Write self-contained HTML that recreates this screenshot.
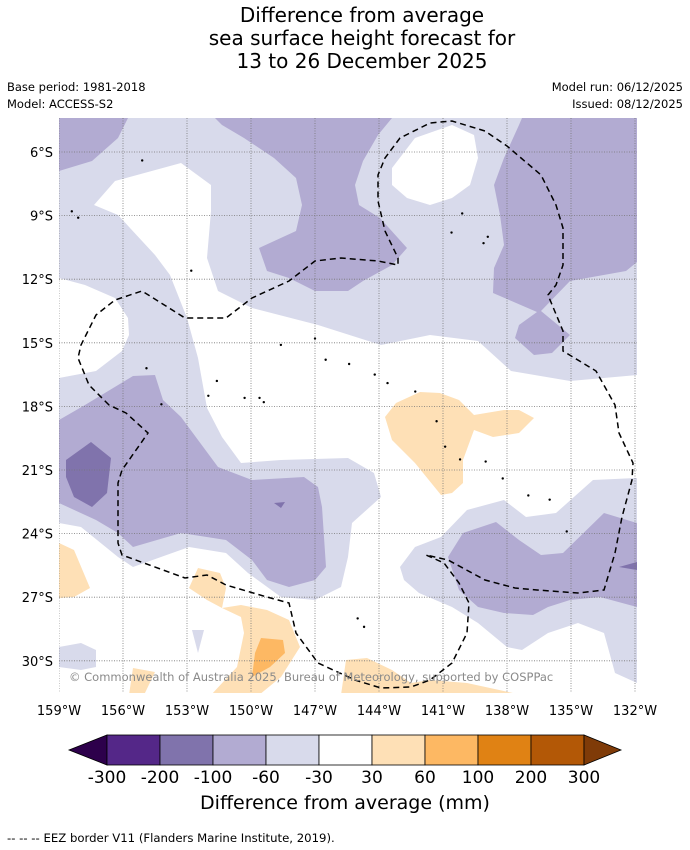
<!DOCTYPE html>
<html><head><meta charset="utf-8"><style>
body{margin:0;background:#fff;width:690px;height:850px;overflow:hidden;font-family:"DejaVu Sans","Liberation Sans",sans-serif}
svg{position:absolute;left:0;top:0;font-family:"DejaVu Sans","Liberation Sans",sans-serif}
</style></head><body>
<svg id="chart" width="690" height="850" viewBox="0 0 690 850">
<g font-size="20" text-anchor="middle" fill="#000">
<text x="362" y="22">Difference from average</text>
<text x="362" y="45">sea surface height forecast for</text>
<text x="362" y="68">13 to 26 December 2025</text>
</g>
<g font-size="11.5" fill="#000">
<text x="7" y="91">Base period: 1981-2018</text>
<text x="7" y="108">Model: ACCESS-S2</text>
<text x="683" y="91" text-anchor="end">Model run: 06/12/2025</text>
<text x="683" y="108" text-anchor="end">Issued: 08/12/2025</text>
</g>
<defs><clipPath id="mapclip"><rect x="59" y="118" width="578" height="575"/></clipPath></defs>
<g id="map" clip-path="url(#mapclip)">
<rect x="59" y="118" width="578" height="575" fill="#fff"/>
<g id="contours"></g>
<g id="grid"></g>
<g id="islands"></g>
<g id="eez"></g>
</g>
<text x="69" y="681" font-size="11.5" fill="#8a8a8a">© Commonwealth of Australia 2025, Bureau of Meteorology, supported by COSPPac</text>
<g id="axes" font-size="13" fill="#000"></g>
<g id="colorbar"></g>
<text x="345" y="809" font-size="19" text-anchor="middle">Difference from average (mm)</text>
<text x="7" y="842" font-size="11.7">--  --  -- EEZ border V11 (Flanders Marine Institute, 2019).</text>
</svg>
<script>
const NS='http://www.w3.org/2000/svg';
const lonTicks=[-159,-156,-153,-150,-147,-144,-141,-138,-135,-132];
const lonLabels=['159°W','156°W','153°W','150°W','147°W','144°W','141°W','138°W','135°W','132°W'];
const latTicks=[-6,-9,-12,-15,-18,-21,-24,-27,-30];
const latLabels=['6°S','9°S','12°S','15°S','18°S','21°S','24°S','27°S','30°S'];
const levels=[-300,-200,-100,-60,-30,30,60,100,200,300];
const levelColors=['#2d004b','#542788','#8073ac','#b2abd2','#d8daeb','#ffffff','#fee0b6','#fdb863','#e08214','#b35806','#7f3b08'];
function xLon(lon){return 59+(lon+159)*64/3;}
function yLat(lat){return 152+(-6-lat)*63.6/3;}
function el(tag,attrs,parent){const e=document.createElementNS(NS,tag);for(const k in attrs)e.setAttribute(k,attrs[k]);parent.appendChild(e);return e;}
const shapeL1main=[[59,118],[637,118],[637,375],[570,381],[511,371],[478,341],[430,335],[381,345],[318,325],[252,308],[218,291],[207,258],[211,211],[211,185],[181,163],[115,181],[94,205],[118,215],[155,255],[170,275],[187,318],[198,358],[207,408],[222,437],[241,463],[281,460],[348,458],[374,473],[381,497],[352,523],[348,557],[341,587],[315,600],[281,597],[248,573],[226,553],[189,547],[133,567],[118,557],[81,527],[59,523],[59,378],[96,371],[122,351],[129,335],[128,318],[115,298],[85,285],[59,278]];
const shapeWhiteHole=[[392,168],[415,138],[452,125],[474,135],[478,158],[470,185],[452,198],[430,205],[407,198],[392,185]];
const shapeWhiteTri=[[144,482],[155,473],[157,490]];
const shapeL1right=[[400,567],[415,547],[441,537],[467,510],[504,500],[526,517],[556,513],[593,480],[637,478],[637,683],[615,673],[604,633],[578,623],[548,633],[522,650],[507,647],[478,623],[452,607],[419,593],[404,580]];
const shapeL1sw=[[59,647],[81,643],[96,650],[96,667],[81,670],[59,667]];
const shapeL1tri=[[192,630],[204,630],[198,653]];
const shapeL2a=[[59,118],[128,118],[118,138],[92,161],[59,171]];
const shapeL2b=[[215,118],[392,118],[378,135],[363,161],[355,185],[359,205],[380,218],[407,248],[392,265],[363,281],[348,291],[315,291],[289,278],[267,271],[259,248],[296,231],[302,205],[296,178],[274,158],[244,138],[222,125]];
const shapeL2c=[[522,118],[637,118],[637,262],[626,271],[570,281],[541,311],[570,335],[552,353],[534,355],[515,338],[519,325],[537,312],[493,293],[494,268],[504,245],[500,215],[494,185],[504,158],[519,125]];
const shapeL2d=[[59,420],[85,405],[133,376],[155,375],[163,400],[181,417],[218,467],[252,480],[304,477],[318,487],[322,507],[326,567],[315,580],[289,587],[267,580],[252,560],[226,540],[181,533],[133,547],[118,533],[96,520],[59,503]];
const shapeL2f=[[448,557],[463,533],[496,522],[519,540],[541,555],[563,553],[604,513],[637,523],[637,607],[600,597],[570,600],[548,607],[533,615],[504,613],[478,607],[459,590]];
const shapeL3a=[[66,460],[91,442],[111,458],[107,493],[92,507],[74,497],[66,477]];
const shapeL3b=[[274,503],[285,502],[281,508]];
const shapeL3c=[[619,567],[637,562],[637,570]];
const shapeO1a=[[385,417],[396,403],[420,392],[440,393],[459,400],[474,415],[504,410],[519,410],[534,418],[519,433],[493,437],[474,430],[463,460],[463,483],[452,493],[441,495],[415,463],[392,440]];
const shapeO1b=[[59,543],[74,550],[90,588],[74,597],[59,598]];
const shapeO1c=[[189,588],[198,568],[220,573],[226,588],[222,608],[207,600]];
const shapeO1d=[[222,608],[241,605],[267,610],[289,620],[300,647],[281,677],[259,695],[211,695],[237,667],[244,633],[241,617]];
const shapeO2e=[[261,638],[283,640],[285,653],[270,667],[252,677],[255,653]];
const shapeO1f=[[341,695],[346,660],[367,658],[392,670],[411,683],[430,680],[467,683],[522,695]];
const shapeO1g=[[129,695],[133,668],[155,672],[144,695]];
const eezLine=[[109,405],[89,385],[78,358],[81,345],[96,315],[115,300],[142,291],[185,318],[226,318],[252,298],[289,281],[315,261],[341,258],[378,261],[398,265],[398,258],[385,231],[378,201],[378,175],[385,158],[400,138],[430,123],[452,121],[485,131],[507,146],[541,175],[556,205],[563,228],[563,265],[556,285],[548,295],[563,331],[563,351],[596,371],[615,405],[619,433],[633,463],[632,480],[622,517],[615,553],[604,590],[578,593],[537,590],[515,588],[485,580],[448,560],[426,555],[444,563],[459,583],[469,603],[467,633],[452,663],[430,680],[411,687],[381,688],[355,680],[318,663],[296,633],[289,603],[267,597],[226,585],[207,575],[185,578],[122,555],[118,543],[118,483],[122,470],[148,433],[126,413],[109,405]];
const islandLon=[-154.9,-154.2,-152.0,-151.6,-150.3,-149.6,-149.4,-148.6,-147.0,-146.5,-145.4,-144.2,-143.6,-142.3,-141.3,-140.9,-140.2,-139.0,-138.2,-137.0,-136.0,-135.2,-140.1,-140.6,-139.1,-138.9,-158.4,-158.1,-152.8,-155.1,-145.0,-144.7];
const islandLat=[-16.2,-17.9,-17.5,-16.8,-17.6,-17.6,-17.8,-15.1,-14.8,-15.8,-16.0,-16.5,-16.9,-17.3,-18.7,-19.9,-20.5,-20.6,-21.4,-22.2,-22.4,-23.9,-8.9,-9.8,-10.3,-10.0,-8.8,-9.1,-11.6,-6.4,-28.0,-28.4];
const contourG=document.getElementById('contours');
function poly(pts,fill,name){const p=el('polygon',{points:pts.map(q=>q.join(',')).join(' '),fill:fill},contourG);

}
poly(shapeL1main,levelColors[4],'contour-minus30-main');
poly(shapeWhiteHole,'#fff','contour-neutral-hole');
poly(shapeWhiteTri,'#fff','contour-neutral-small');
poly(shapeL1right,levelColors[4],'contour-minus30-southeast');
poly(shapeL1sw,levelColors[4],'contour-minus30-southwest');
poly(shapeL1tri,levelColors[4],'contour-minus30-small');
poly(shapeL2a,levelColors[3],'contour-minus60-northwest');
poly(shapeL2b,levelColors[3],'contour-minus60-north');
poly(shapeL2c,levelColors[3],'contour-minus60-northeast');
poly(shapeL2d,levelColors[3],'contour-minus60-west');
poly(shapeL2f,levelColors[3],'contour-minus60-southeast');
poly(shapeL3a,levelColors[2],'contour-minus100-west');
poly(shapeL3b,levelColors[2],'contour-minus100-small');
poly(shapeL3c,levelColors[2],'contour-minus100-east');
poly(shapeO1a,levelColors[6],'contour-plus30-central');
poly(shapeO1b,levelColors[6],'contour-plus30-west');
poly(shapeO1c,levelColors[6],'contour-plus30-small');
poly(shapeO1d,levelColors[6],'contour-plus30-south');
poly(shapeO2e,levelColors[7],'contour-plus60-south');
poly(shapeO1f,levelColors[6],'contour-plus30-bottom');
poly(shapeO1g,levelColors[6],'contour-plus30-bottomleft');
const gridG=document.getElementById('grid');
lonTicks.forEach((lon,i)=>{const l=el('line',{x1:xLon(lon),x2:xLon(lon),y1:118,y2:693,stroke:'#777','stroke-width':0.8,'stroke-dasharray':'1,1.5'},gridG);

});
latTicks.forEach((lat,i)=>{const l=el('line',{x1:59,x2:637,y1:yLat(lat),y2:yLat(lat),stroke:'#777','stroke-width':0.8,'stroke-dasharray':'1,1.5'},gridG);

});
const islG=document.getElementById('islands');
islandLon.forEach((lon,i)=>{const c=el('circle',{cx:xLon(lon),cy:yLat(islandLat[i]),r:1.2,fill:'#000'},islG);

});
const eez=el('polyline',{points:eezLine.map(q=>q.join(',')).join(' '),fill:'none',stroke:'#000','stroke-width':1.5,'stroke-dasharray':'6,4'},document.getElementById('eez'));


const ax=document.getElementById('axes');
lonTicks.forEach((lon,i)=>{const t=el('text',{x:xLon(lon),y:715,'text-anchor':'middle'},ax);t.textContent=lonLabels[i];

});
latTicks.forEach((lat,i)=>{const t=el('text',{x:53,y:yLat(lat)+5,'text-anchor':'end'},ax);t.textContent=latLabels[i];

});
const cb=document.getElementById('colorbar');
const cbX0=107,cbW=53,cbY=735,cbH=30;
function cbX(i){return cbX0+i*cbW;}
const lt=el('polygon',{points:`${cbX(0)},${cbY} ${cbX(0)},${cbY+cbH} 69,${cbY+cbH/2}`,fill:levelColors[0],stroke:'#000','stroke-width':0.8},cb);


for(let i=0;i<levels.length-1;i++){const r=el('rect',{x:cbX(i),y:cbY,width:cbW,height:cbH,fill:levelColors[i+1],stroke:'#000','stroke-width':0.8},cb);

}
const rt=el('polygon',{points:`${cbX(levels.length-1)},${cbY} ${cbX(levels.length-1)},${cbY+cbH} 621,${cbY+cbH/2}`,fill:levelColors[10],stroke:'#000','stroke-width':0.8},cb);


levels.forEach((v,i)=>{const t=el('text',{x:cbX(i),y:783,'text-anchor':'middle','font-size':17},cb);t.textContent=v;

});
</script>
</body></html>
